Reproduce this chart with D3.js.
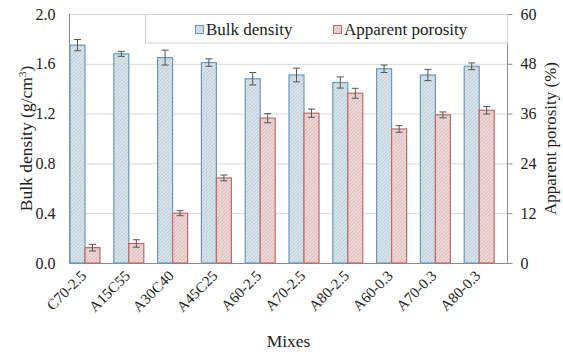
<!DOCTYPE html>
<html>
<head>
<meta charset="utf-8">
<script src="https://cdn.jsdelivr.net/npm/d3@7"></script>
</head>
<body style="margin:0;background:#fff">
<svg id="chart" width="563" height="354" font-family="Liberation Serif"></svg>
<script>
// Mix designs and measured properties
const mixes = ["C70-2.5", "A15C55", "A30C40", "A45C25", "A60-2.5", "A70-2.5", "A80-2.5", "A60-0.3", "A70-0.3", "A80-0.3"];
const bulkDensity = [1.75, 1.68, 1.65, 1.61, 1.48, 1.51, 1.45, 1.56, 1.51, 1.58];
const bulkDensityErr = [0.045, 0.02, 0.06, 0.03, 0.05, 0.055, 0.045, 0.03, 0.045, 0.027];
const porosity = [3.7, 4.7, 12.0, 20.5, 34.9, 36.1, 40.9, 32.3, 35.7, 36.8];
const porosityErr = [0.8, 0.9, 0.6, 0.7, 1.1, 1.0, 1.2, 0.8, 0.7, 0.9];
const leftTicks = [0, 0.4, 0.8, 1.2, 1.6, 2.0];
const rightTicks = [0, 12, 24, 36, 48, 60];

const svg = d3.select("#chart");
const m = { left: 69.5, right: 507.5, top: 14, bottom: 263 };

const x = d3.scaleBand().domain(mixes).range([m.left, m.right]).paddingInner(0).paddingOuter(0);
const yL = d3.scaleLinear().domain([0, 2.0]).range([m.bottom, m.top]);
const yR = d3.scaleLinear().domain([0, 60]).range([m.bottom, m.top]);
const barW = 15;

// Hatch patterns for the two series
const defs = svg.append("defs");
function hatch(id, bg, line) {
  const p = defs.append("pattern").attr("id", id).attr("patternUnits", "userSpaceOnUse")
    .attr("width", 2.5).attr("height", 2.5).attr("patternTransform", "rotate(45)");
  p.append("rect").attr("width", 2.5).attr("height", 2.5).attr("fill", bg);
  p.append("line").attr("x1", 0).attr("y1", 0).attr("x2", 0).attr("y2", 2.5)
    .attr("stroke", line).attr("stroke-width", 1);
}
hatch("hBlue", "#dae6ec", "#a3b8c6");
hatch("hRed", "#efd9d9", "#cda3a3");

// Gridlines
svg.append("g").selectAll("line").data(leftTicks.slice(1, -1)).join("line")
  .attr("x1", m.left).attr("x2", m.right)
  .attr("y1", d => yL(d) + 0.5).attr("y2", d => yL(d) + 0.5)
  .attr("stroke", "#d9d9d9").attr("stroke-width", 1);

// Plot frame
svg.append("rect").attr("x", m.left).attr("y", m.top + 0.5)
  .attr("width", m.right - m.left).attr("height", m.bottom - m.top)
  .attr("fill", "none").attr("stroke", "#d9d9d9");
svg.append("line").attr("x1", m.left).attr("x2", m.left).attr("y1", m.top).attr("y2", m.bottom)
  .attr("stroke", "#8c8c8c");
svg.append("line").attr("x1", m.right).attr("x2", m.right).attr("y1", m.top).attr("y2", m.bottom)
  .attr("stroke", "#8c8c8c");
svg.append("line").attr("x1", m.left).attr("x2", m.right + 0.5).attr("y1", m.bottom + 0.5).attr("y2", m.bottom + 0.5)
  .attr("stroke", "#8c8c8c");

// Bars
const groups = svg.append("g").selectAll("g").data(mixes).join("g");
groups.append("rect")
  .attr("x", d => x(d) + 0.5)
  .attr("y", (d, i) => yL(bulkDensity[i]))
  .attr("width", barW)
  .attr("height", (d, i) => m.bottom - yL(bulkDensity[i]))
  .attr("fill", "url(#hBlue)").attr("stroke", "#6b98b8").attr("stroke-width", 1.2);
groups.append("rect")
  .attr("x", d => x(d) + barW + 0.5)
  .attr("y", (d, i) => yR(porosity[i]))
  .attr("width", barW)
  .attr("height", (d, i) => m.bottom - yR(porosity[i]))
  .attr("fill", "url(#hRed)").attr("stroke", "#bf6a68").attr("stroke-width", 1.2);

// Error bars
function errBar(cx, yTop, yBot) {
  const g = svg.append("g").attr("stroke", "#555").attr("stroke-width", 1);
  g.append("line").attr("x1", cx).attr("x2", cx).attr("y1", yTop).attr("y2", yBot);
  g.append("line").attr("x1", cx - 3.5).attr("x2", cx + 3.5).attr("y1", yTop).attr("y2", yTop);
  g.append("line").attr("x1", cx - 3.5).attr("x2", cx + 3.5).attr("y1", yBot).attr("y2", yBot);
}
mixes.forEach((d, i) => {
  errBar(x(d) + barW / 2 + 0.5, yL(bulkDensity[i] + bulkDensityErr[i]), yL(bulkDensity[i] - bulkDensityErr[i]));
  errBar(x(d) + barW * 1.5 + 0.5, yR(porosity[i] + porosityErr[i]), yR(porosity[i] - porosityErr[i]));
});

// Left axis
const axL = svg.append("g").attr("transform", `translate(${m.left},0)`)
  .call(d3.axisLeft(yL).tickValues(leftTicks).tickFormat(d3.format(".1f")).tickSize(0).tickPadding(14))
  .attr("font-family", "Liberation Serif").attr("font-size", 16);
axL.select(".domain").remove();
axL.selectAll("text").attr("fill", "#222");

// Right axis
const axR = svg.append("g").attr("transform", `translate(${m.right},0)`)
  .call(d3.axisRight(yR).tickValues(rightTicks).tickSize(5).tickPadding(8))
  .attr("font-family", "Liberation Serif").attr("font-size", 16);
axR.select(".domain").remove();
axR.selectAll("line").attr("stroke", "#8c8c8c");
axR.selectAll("text").attr("fill", "#222");

// Category labels
svg.append("g").selectAll("text").data(mixes).join("text")
  .attr("transform", d => `translate(${x(d) + barW - 1},${m.bottom + 10}) rotate(-45)`)
  .attr("text-anchor", "end").attr("dy", "0.35em")
  .attr("font-size", 15).attr("fill", "#222")
  .text(d => d);

// Axis titles
const tl = svg.append("text")
  .attr("transform", `translate(32,${(m.top + m.bottom) / 2}) rotate(-90)`)
  .attr("text-anchor", "middle").attr("font-size", 17.5).attr("fill", "#222");
tl.append("tspan").text("Bulk density (g/cm");
tl.append("tspan").attr("baseline-shift", "super").attr("font-size", 11).text("3");
tl.append("tspan").text(")");

svg.append("text")
  .attr("transform", `translate(556,${(m.top + m.bottom) / 2}) rotate(-90)`)
  .attr("text-anchor", "middle").attr("font-size", 17).attr("fill", "#222")
  .text("Apparent porosity (%)");

svg.append("text")
  .attr("x", (m.left + m.right) / 2).attr("y", 347)
  .attr("text-anchor", "middle").attr("font-size", 17.5).attr("fill", "#222")
  .text("Mixes");

// Legend
const lg = svg.append("g");
lg.append("rect").attr("x", 145.5).attr("y", 14.5).attr("width", 362).attr("height", 28.5)
  .attr("fill", "#fff").attr("stroke", "#d0d0d0");
const legendItems = [
  { label: "Bulk density", fill: "url(#hBlue)", stroke: "#6b98b8", x: 195 },
  { label: "Apparent porosity", fill: "url(#hRed)", stroke: "#bf6a68", x: 333 }
];
legendItems.forEach(it => {
  lg.append("rect").attr("x", it.x + 0.5).attr("y", 25.5).attr("width", 8).attr("height", 8)
    .attr("fill", it.fill).attr("stroke", it.stroke);
  lg.append("text").attr("x", it.x + 11).attr("y", 35)
    .attr("font-size", 17).attr("fill", "#222").text(it.label);
});

svg.selectAll("text").attr("font-family", "Liberation Serif");
</script>
</body>
</html>
